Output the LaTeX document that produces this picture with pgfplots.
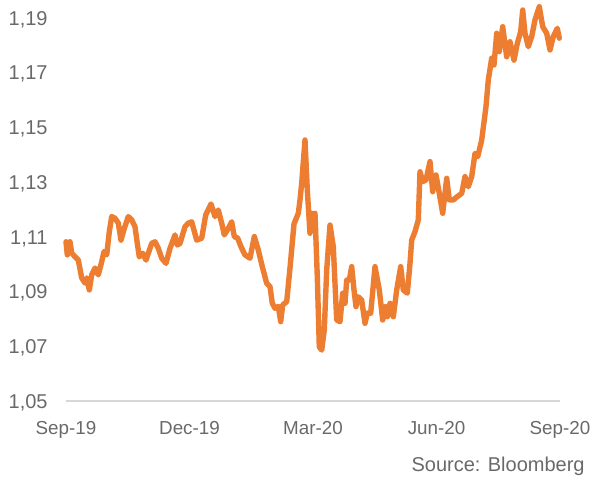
\documentclass[border=0pt]{standalone}
\usepackage{fontspec}
\setmainfont{Liberation Sans}
\usepackage{pgfplots}
\pgfplotsset{compat=1.18}
\definecolor{lineor}{RGB}{237,125,49}
\definecolor{txtgray}{RGB}{105,105,105}
\definecolor{axgray}{RGB}{215,215,215}
\begin{document}
\begin{tikzpicture}
\useasboundingbox (0,0) rectangle (295pt,239pt);
\begin{axis}[
  at={(33pt,38.5pt)}, anchor=south west,
  scale only axis, width=247pt, height=200.5pt,
  xmin=0, xmax=494, ymin=1.05, ymax=1.19656,
  axis y line*=left, axis x line*=bottom,
  y axis line style={draw=none},
  x axis line style={draw=axgray, line width=0.75pt, -},
  clip=false,
  xtick={0,123.5,247,370.5,494},
  xticklabels={Sep-19,Dec-19,Mar-20,Jun-20,Sep-20},
  major tick length=0pt,
  ytick={1.05,1.07,1.09,1.11,1.13,1.15,1.17,1.19},
  /pgf/number format/.cd, use comma, fixed, fixed zerofill, precision=2, assume math mode=true,
  /pgfplots/.cd,
  yticklabel style={anchor=base east, inner sep=0pt, xshift=-9pt, yshift=-3.6pt, font=\fontsize{10}{12}\selectfont, text=txtgray},
  xticklabel style={anchor=base, inner sep=0pt, yshift=-16.5pt, font=\fontsize{9.4}{11}\selectfont, text=txtgray},
  ytick style={draw=none}, xtick style={draw=none},
]
\addplot[lineor, line width=2.7pt, line join=round, line cap=round] coordinates {
(0.0,1.1082) (1.3,1.1034) (4.0,1.1082) (5.7,1.1041) (9.0,1.1027) (12.3,1.1015)
(15.7,1.0950) (19.0,1.0931) (20.7,1.0950) (23.3,1.0906) (25.7,1.0961) (29.0,1.0986)
(32.3,1.0961) (35.7,1.1009) (38.0,1.1046) (40.7,1.1034) (43.3,1.1119) (45.7,1.1174)
(49.0,1.1168) (52.3,1.1150) (55.0,1.1088) (58.3,1.1131) (62.3,1.1174) (65.7,1.1162)
(69.0,1.1137) (71.3,1.1076) (73.3,1.1027) (76.7,1.1040) (80.0,1.1015) (82.3,1.1040)
(85.7,1.1076) (89.0,1.1082) (92.3,1.1058) (95.7,1.1022) (100.0,1.1003) (104.0,1.1058)
(109.0,1.1107) (111.3,1.1070) (114.0,1.1076) (119.0,1.1137) (122.3,1.1150) (125.7,1.1155)
(130.7,1.1088) (135.7,1.1095) (139.7,1.1180) (145.0,1.1220) (149.0,1.1174) (152.3,1.1198)
(155.7,1.1150) (158.3,1.1107) (162.3,1.1131) (165.7,1.1155) (168.3,1.1101) (171.7,1.1095)
(175.0,1.1064) (179.0,1.1034) (184.0,1.1022) (188.3,1.1101) (192.3,1.1052) (196.3,1.0991)
(200.7,1.0930) (204.0,1.0918) (206.3,1.0857) (209.0,1.0839) (212.3,1.0845) (214.7,1.0790)
(216.7,1.0851) (220.7,1.0863) (224.0,1.0986) (228.0,1.1147) (232.3,1.1186) (234.0,1.1235)
(235.7,1.1296) (239.0,1.1454) (241.3,1.1271) (244.0,1.1113) (245.7,1.1186) (247.3,1.1125)
(249.0,1.1186) (251.3,1.0954) (253.3,1.0698) (255.7,1.0686) (258.3,1.0760) (260.7,1.0979)
(264.0,1.1143) (267.3,1.1064) (270.7,1.0796) (274.0,1.0790) (276.7,1.0894) (279.0,1.0857)
(280.7,1.0942) (283.3,1.0942) (285.7,1.0991) (288.0,1.0906) (290.0,1.0845) (292.3,1.0881)
(295.7,1.0869) (299.0,1.0784) (301.3,1.0821) (304.7,1.0821) (309.0,1.0991) (313.3,1.0906)
(316.7,1.0796) (319.3,1.0845) (321.3,1.0808) (324.0,1.0857) (327.3,1.0808) (330.7,1.0906)
(334.7,1.0991) (337.3,1.0906) (341.3,1.0894) (344.0,1.1003) (345.7,1.1088) (349.0,1.1119)
(352.3,1.1162) (354.0,1.1338) (356.7,1.1302) (360.0,1.1308) (364.0,1.1375) (366.7,1.1265)
(370.0,1.1326) (373.3,1.1259) (376.7,1.1186) (380.7,1.1314) (383.3,1.1235) (387.3,1.1235)
(391.3,1.1247) (395.7,1.1259) (399.0,1.1320) (402.3,1.1283) (405.7,1.1320) (409.0,1.1405)
(411.7,1.1393) (415.7,1.1454) (420.0,1.1576) (422.3,1.1673) (425.7,1.1753) (428.0,1.1728)
(430.7,1.1844) (433.3,1.1777) (436.7,1.1868) (440.7,1.1758) (444.0,1.1813) (448.0,1.1746)
(451.3,1.1807) (454.7,1.1850) (456.7,1.1929) (459.0,1.1844) (462.3,1.1795) (465.7,1.1832)
(469.0,1.1893) (473.3,1.1941) (476.7,1.1868) (480.7,1.1844) (484.0,1.1783) (487.3,1.1832)
(491.3,1.1862) (493.3,1.1826)
};
\end{axis}
\node[anchor=base east, inner sep=0pt, text=txtgray, font=\fontsize{10}{12}\selectfont] at (292.5pt,3.25pt) {Source: Bloomberg};
\end{tikzpicture}
\end{document}
